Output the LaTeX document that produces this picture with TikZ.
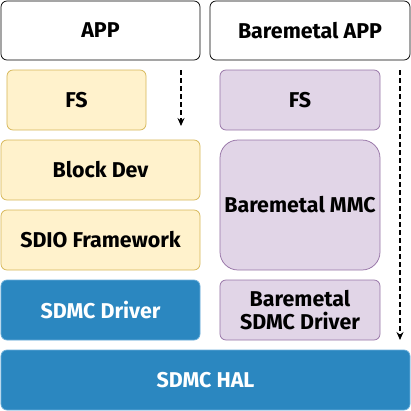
\documentclass[tikz,border=0pt]{standalone}
\usepackage{fontspec}
\setmainfont{Fira Sans}
\usepackage{xcolor}
\usetikzlibrary{arrows.meta}

\definecolor{fsyellow}{HTML}{FFF2CC}
\definecolor{fsyellowline}{HTML}{D6B656}
\definecolor{bmpurple}{HTML}{E1D5E7}
\definecolor{bmpurpleline}{HTML}{9673A6}
\definecolor{halblue}{HTML}{2B87C0}
\definecolor{halblueline}{HTML}{6AAEDA}

\tikzset{
  layer/.style={draw, rounded corners=6bp, line width=0.75bp, align=center,
                inner sep=0pt, font=\fontsize{21.5}{23}\selectfont\bfseries},
  applayer/.style={layer, fill=white, draw=black},
  oslayer/.style={layer, fill=fsyellow, draw=fsyellowline},
  bmlayer/.style={layer, fill=bmpurple, draw=bmpurpleline},
  hwlayer/.style={layer, fill=halblue, draw=halblueline, text=white},
  callpath/.style={dash pattern=on 5bp off 3bp, line width=1.4bp, -{Stealth[length=8bp, width=7bp]}}
}

\begin{document}
\begin{tikzpicture}[x=1bp, y=-1bp]
\useasboundingbox (0,0) rectangle (411,411);
\node [applayer, minimum width=199bp, minimum height=59bp]
       (app) at (100.5,30.5) {APP};
\node [applayer, minimum width=200bp, minimum height=59bp]
       (bapp) at (310,30.5) {Baremetal APP};
\node [oslayer, minimum width=139bp, minimum height=60bp]
       (fs) at (76.5,100) {FS};
\node [bmlayer, minimum width=160bp, minimum height=60bp]
       (bfs) at (300,100) {FS};
\node [oslayer, minimum width=199bp, minimum height=60bp]
       (blkdev) at (100.5,170) {Block Dev};
\node [oslayer, minimum width=199bp, minimum height=60bp]
       (sdio) at (100.5,240) {SDIO Framework};
\node [bmlayer, minimum width=160bp, minimum height=130bp, rounded corners=18bp]
       (bmmc) at (300,205) {Baremetal MMC};
\node [hwlayer, minimum width=199bp, minimum height=60bp]
       (drv) at (100.5,310) {SDMC Driver};
\node [bmlayer, minimum width=160bp, minimum height=60bp]
       (bdrv) at (300,310) {Baremetal\\SDMC Driver};
\node [hwlayer, minimum width=409bp, minimum height=60bp]
       (hal) at (205.5,380) {SDMC HAL};
% call paths
\coordinate (osstart) at (181,70);
\coordinate (osend) at (181,126);
\coordinate (bmstart) at (400,70);
\coordinate (bmend) at (400,340);
\draw [callpath] (osstart) -- (osend);
\draw [callpath] (bmstart) -- (bmend);
\end{tikzpicture}
\end{document}
